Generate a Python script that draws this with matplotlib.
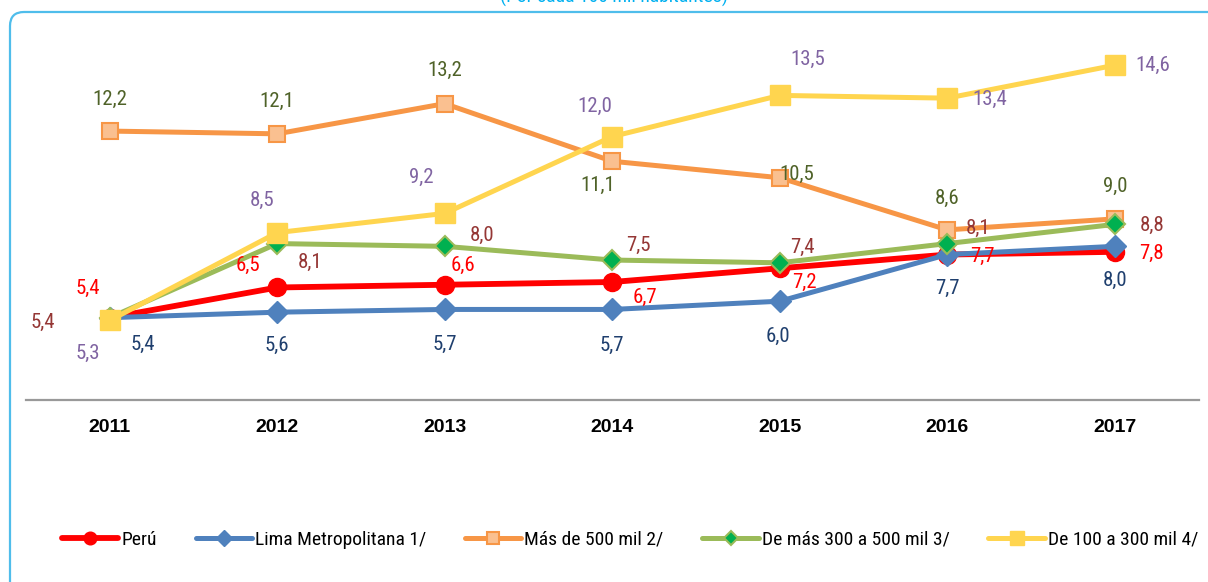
import matplotlib
matplotlib.use("Agg")
import matplotlib.pyplot as plt
from matplotlib.patches import FancyBboxPatch

# ===== data =====
years = ["2011", "2012", "2013", "2014", "2015", "2016", "2017"]
peru = [5.4, 6.5, 6.6, 6.7, 7.2, 7.7, 7.8]
lima = [5.4, 5.6, 5.7, 5.7, 6.0, 7.7, 8.0]
mas_500 = [12.2, 12.1, 13.2, 11.1, 10.5, 8.6, 9.0]
de_300_500 = [5.4, 8.1, 8.0, 7.5, 7.4, 8.1, 8.8]
de_100_300 = [5.3, 8.5, 9.2, 12.0, 13.5, 13.4, 14.6]
series_names = ["Perú", "Lima Metropolitana 1/", "Más de 500 mil 2/",
                "De más 300 a 500 mil 3/", "De 100 a 300 mil 4/"]
subtitle = "(Por cada 100 mil habitantes)"

NARROW = ["Liberation Sans Narrow", "Arial Narrow", "Roboto Condensed",
          "Archivo Narrow", "DejaVu Sans"]
W, H = 1208, 582

# label offsets in pixels (dx, dy) - as placed in the original chart
off_peru = [(-22, 29), (-29, 22), (18, 19), (33, -15), (25, -14), (35, -2), (37, -2)]
off_lima = [(33, -27), (0, -33), (0, -35), (0, -36), (-2, -35), (0, -34), (0, -34)]
off_500 = [(0, 32), (0, 32), (0, 33), (-15, -24), (17, 3), (0, 31), (0, 32)]
off_300 = [(-67, -5), (33, -19), (37, 11), (26, 15), (23, 15), (31, 15), (37, -1)]
off_100 = [(-22, -33), (-15, 32), (-23, 36), (-17, 30), (28, 36), (43, -1), (38, 0)]

fig = plt.figure(figsize=(W / 100, H / 100), dpi=100)

# background frame
bg = fig.add_axes([0, 0, 1, 1], zorder=0)
bg.set_xlim(0, W)
bg.set_ylim(H, 0)
bg.axis("off")
bg.add_patch(FancyBboxPatch((10, 12), 1240, 600, boxstyle="round,pad=0,rounding_size=14",
                            fc="white", ec="#4FBDEB", lw=1.6))
# subtitle sits above the crop in the original, only its lower edge shows
bg.text(614, -3, subtitle, ha="center", va="center", color="#00B0F0",
        fontsize=14, family=NARROW)

# main axes, pixel-aligned
x_left, x_right = 26, 1198.5
y_top, y_bot = 26.8, 400
ax = fig.add_axes([x_left / W, 1 - y_bot / H, (x_right - x_left) / W, (y_bot - y_top) / H],
                  zorder=1)
ax.patch.set_alpha(0)
x = list(range(len(years)))

styles = [
    (peru, dict(color="#FF0000", lw=4.2, marker="o", ms=13, mfc="#FF0000", mec="#FF0000")),
    (lima, dict(color="#4F81BD", lw=3.6, marker="D", ms=11, mfc="#4F81BD", mec="#4F81BD")),
    (mas_500, dict(color="#F79646", lw=3.6, marker="s", ms=12, mfc="#FAC090", mec="#F79646", mew=1.5)),
    (de_300_500, dict(color="#9BBB59", lw=3.6, marker="D", ms=10, mfc="#00B050", mec="#9BBB59", mew=1.5)),
    (de_100_300, dict(color="#FFD54F", lw=3.6, marker="s", ms=14, mfc="#FFD54F", mec="#FFD54F")),
]
handles = []
for (vals, st), name in zip(styles, series_names):
    ln, = ax.plot(x, vals, solid_capstyle="round", label=name, **st)
    handles.append(ln)

label_sets = [
    (peru, off_peru, "#FF0000"),
    (lima, off_lima, "#1F3F6E"),
    (mas_500, off_500, "#4F6228"),
    (de_300_500, off_300, "#953735"),
    (de_100_300, off_100, "#8064A2"),
]
for vals, offs, col in label_sets:
    for xi, v, (dx, dy) in zip(x, vals, offs):
        ax.annotate(f"{v:.1f}".replace(".", ","), (xi, v), xytext=(dx, dy),
                    textcoords="offset pixels", ha="center", va="center",
                    color=col, fontsize=15, family=NARROW, zorder=5)

ax.set_xlim(-0.5, 6.5)
ax.set_ylim(2.4, 16)
ax.set_yticks([])
for s in ["left", "right", "top"]:
    ax.spines[s].set_visible(False)
ax.spines["bottom"].set_color("#999999")
ax.spines["bottom"].set_linewidth(1.6)
ax.set_xticks(x)
ax.set_xticklabels(years, fontsize=14, fontweight="bold",
                   family=["Liberation Sans", "DejaVu Sans"])
ax.tick_params(axis="x", length=0, pad=14)

fig.legend(handles=handles, loc="center", bbox_to_anchor=(630 / W, 1 - 540 / H),
           ncol=5, frameon=False, prop={"family": NARROW, "size": 14},
           handlelength=2.9, handletextpad=0.15, columnspacing=2.0, markerscale=0.7)

fig.savefig("out.png", dpi=100)
